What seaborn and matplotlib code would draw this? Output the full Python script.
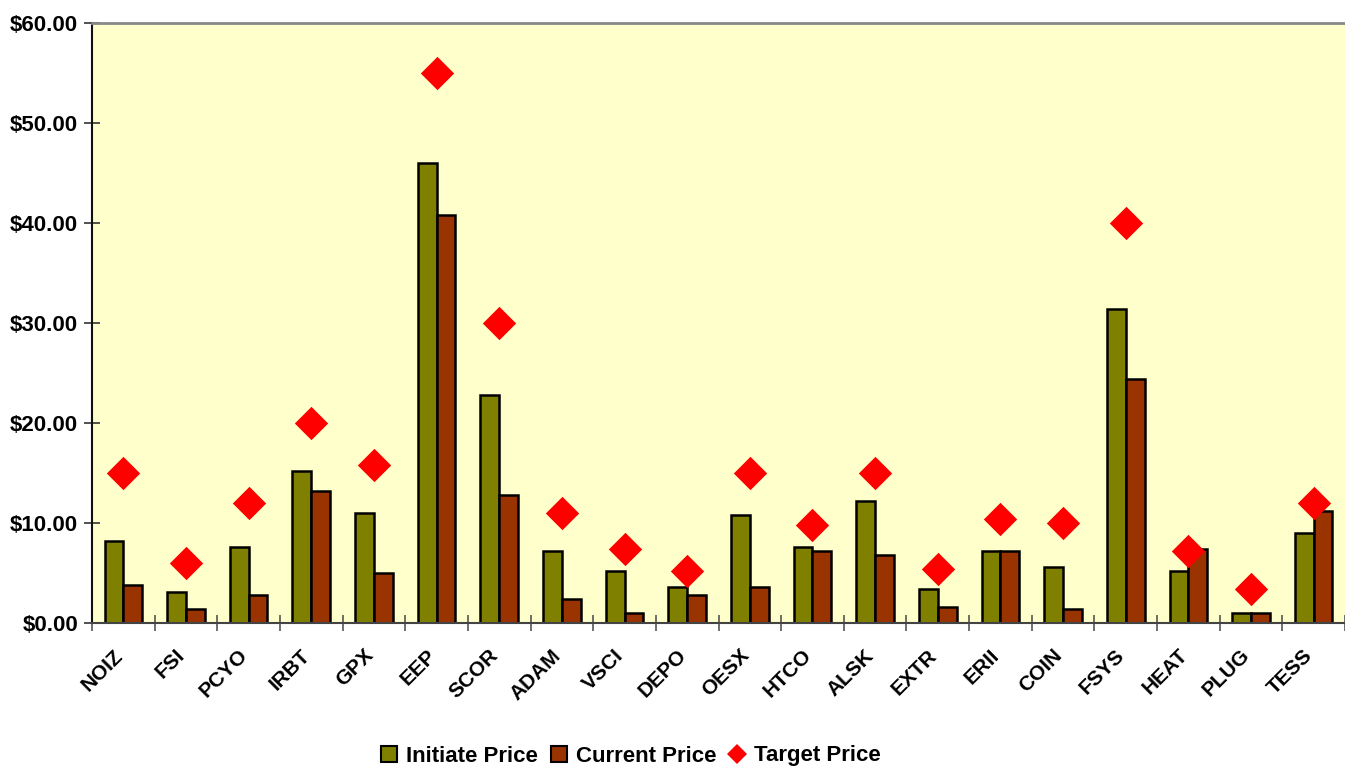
import numpy as np
import pandas as pd
import matplotlib
matplotlib.use("Agg")
import matplotlib.pyplot as plt
from matplotlib.lines import Line2D
from matplotlib.patches import Patch
import seaborn as sns

tickers = ["NOIZ", "FSI", "PCYO", "IRBT", "GPX", "EEP", "SCOR", "ADAM", "VSCI", "DEPO",
           "OESX", "HTCO", "ALSK", "EXTR", "ERII", "COIN", "FSYS", "HEAT", "PLUG", "TESS"]
initiate_price = [8.2, 3.1, 7.6, 15.2, 11.0, 46.0, 22.8, 7.2, 5.2, 3.6,
                  10.8, 7.6, 12.2, 3.4, 7.2, 5.6, 31.4, 5.2, 1.0, 9.0]
current_price = [3.8, 1.4, 2.8, 13.2, 5.0, 40.8, 12.8, 2.4, 1.0, 2.8,
                 3.6, 7.2, 6.8, 1.6, 7.2, 1.4, 24.4, 7.4, 1.0, 11.2]
target_price = [15.0, 6.0, 12.0, 20.0, 15.8, 55.0, 30.0, 11.0, 7.4, 5.2,
                15.0, 9.8, 15.0, 5.4, 10.4, 10.0, 40.0, 7.2, 3.4, 12.0]

series_names = ["Initiate Price", "Current Price"]
colors = {"Initiate Price": "#808000", "Current Price": "#993300"}

bars = pd.DataFrame({
    "ticker": tickers * 2,
    "price": initiate_price + current_price,
    "series": [series_names[0]] * len(tickers) + [series_names[1]] * len(tickers),
})
targets = pd.DataFrame({"ticker": tickers, "price": target_price})

sns.set_style("white")
plt.rcParams["font.family"] = ["Liberation Sans", "DejaVu Sans"]
plt.rcParams["font.weight"] = "bold"
plt.rcParams["text.color"] = "black"
plt.rcParams["xtick.color"] = "black"
plt.rcParams["ytick.color"] = "black"

fig = plt.figure(figsize=(13.45, 7.68), dpi=100)
ax = fig.add_axes([92 / 1345, 145 / 768, 1 - 92 / 1345, 600 / 768])
ax.set_facecolor("#FFFFCC")

sns.barplot(data=bars, x="ticker", y="price", hue="series", order=tickers,
            palette=colors, saturation=1, width=0.6, gap=0, edgecolor="black",
            linewidth=1.8, errorbar=None, legend=False, ax=ax)
sns.stripplot(data=targets, x="ticker", y="price", order=tickers, jitter=False,
              marker="D", size=17, color="#FF0000", linewidth=0, ax=ax, zorder=5)

ax.set_xlim(-0.5, len(tickers) - 0.5)
ax.set_ylim(0, 60)
ax.set_yticks(np.arange(0, 61, 10))
ax.set_yticklabels([f"${v:.2f}" for v in np.arange(0, 61, 10)], fontsize=16, fontweight="bold")
ax.set_xticks(range(len(tickers)))
ax.set_xticklabels(tickers, rotation=45, ha="right", va="baseline", rotation_mode="anchor",
                   fontsize=15, fontweight="bold")
ax.set_xticks(np.arange(-0.5, len(tickers), 1), minor=True)
ax.tick_params(axis="x", which="major", bottom=True, length=0, pad=24)
ax.tick_params(axis="x", which="minor", bottom=True, length=12, direction="inout",
               color="#555555", width=1.2)
ax.tick_params(axis="y", which="major", left=True, length=12, direction="inout",
               color="#333333", width=1.2, pad=4)
ax.set_xlabel("")
ax.set_ylabel("")

for side in ["left", "bottom", "top"]:
    ax.spines[side].set_visible(True)
ax.spines["left"].set_color("#111111")
ax.spines["left"].set_linewidth(1.5)
ax.spines["bottom"].set_color("#444444")
ax.spines["bottom"].set_linewidth(1.5)
ax.spines["top"].set_color("#888888")
ax.spines["top"].set_linewidth(2)
ax.spines["right"].set_visible(False)

handles = [
    Patch(facecolor=colors["Initiate Price"], edgecolor="black", linewidth=1.5),
    Patch(facecolor=colors["Current Price"], edgecolor="black", linewidth=1.5),
    Line2D([], [], marker="D", linestyle="", color="#FF0000", markersize=10, markeredgewidth=0),
]
fig.legend(handles, ["Initiate Price", "Current Price", "Target Price"],
           loc="center", bbox_to_anchor=(631 / 1345, 12 / 768), ncol=3, frameon=False,
           prop={"size": 16, "weight": "bold"}, handlelength=0.7, handleheight=0.7,
           handletextpad=0.4, columnspacing=0.6)

fig.savefig("out.png", dpi=100)
